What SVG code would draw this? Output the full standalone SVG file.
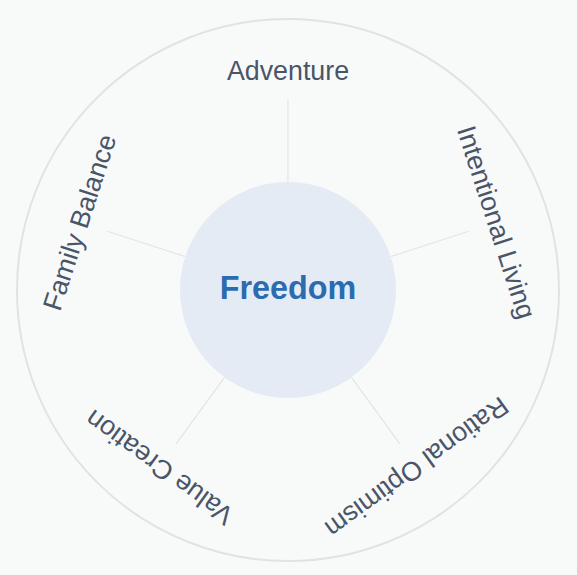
<svg xmlns="http://www.w3.org/2000/svg" width="577" height="575" viewBox="0 0 577 575">
<style>
.lbl{font-family:"Liberation Sans",Arial,sans-serif;font-size:26.8px;fill:#4a5568;text-anchor:middle;dominant-baseline:central}
.spoke{stroke:#e2e4e6;stroke-width:1.2}
</style>
<rect width="577" height="575" fill="#f8fafa"/>
<circle cx="288" cy="290" r="271" fill="none" stroke="#e1e2e3" stroke-width="2"/>
<g id="connectors">
<line class="spoke" x1="288" y1="182" x2="288" y2="100"/>
<line class="spoke" x1="390.7" y1="256.6" x2="468.7" y2="231.3"/>
<line class="spoke" x1="351.5" y1="377.4" x2="399.7" y2="443.7"/>
<line class="spoke" x1="224.5" y1="377.4" x2="176.3" y2="443.7"/>
<line class="spoke" x1="185.3" y1="256.6" x2="107.3" y2="231.3"/>
</g>
<g id="center">
<circle cx="288" cy="290" r="108" fill="#e5ebf4"/>
<text x="288" y="288" font-family="Liberation Sans,Arial,sans-serif" font-size="32.3" font-weight="bold" fill="#2b6cb0" text-anchor="middle" dominant-baseline="central">Freedom</text>
</g>
<g id="adventure"><text class="lbl" x="288" y="71">Adventure</text></g>
<g id="intentional-living"><text class="lbl" transform="translate(496.3,222.3) rotate(72)">Intentional Living</text></g>
<g id="rational-optimism"><text class="lbl" transform="translate(416.7,467.2) rotate(144)">Rational Optimism</text></g>
<g id="value-creation"><text class="lbl" transform="translate(159.3,467.2) rotate(216)">Value Creation</text></g>
<g id="family-balance"><text class="lbl" transform="translate(79.7,222.3) rotate(288)">Family Balance</text></g>
</svg>
